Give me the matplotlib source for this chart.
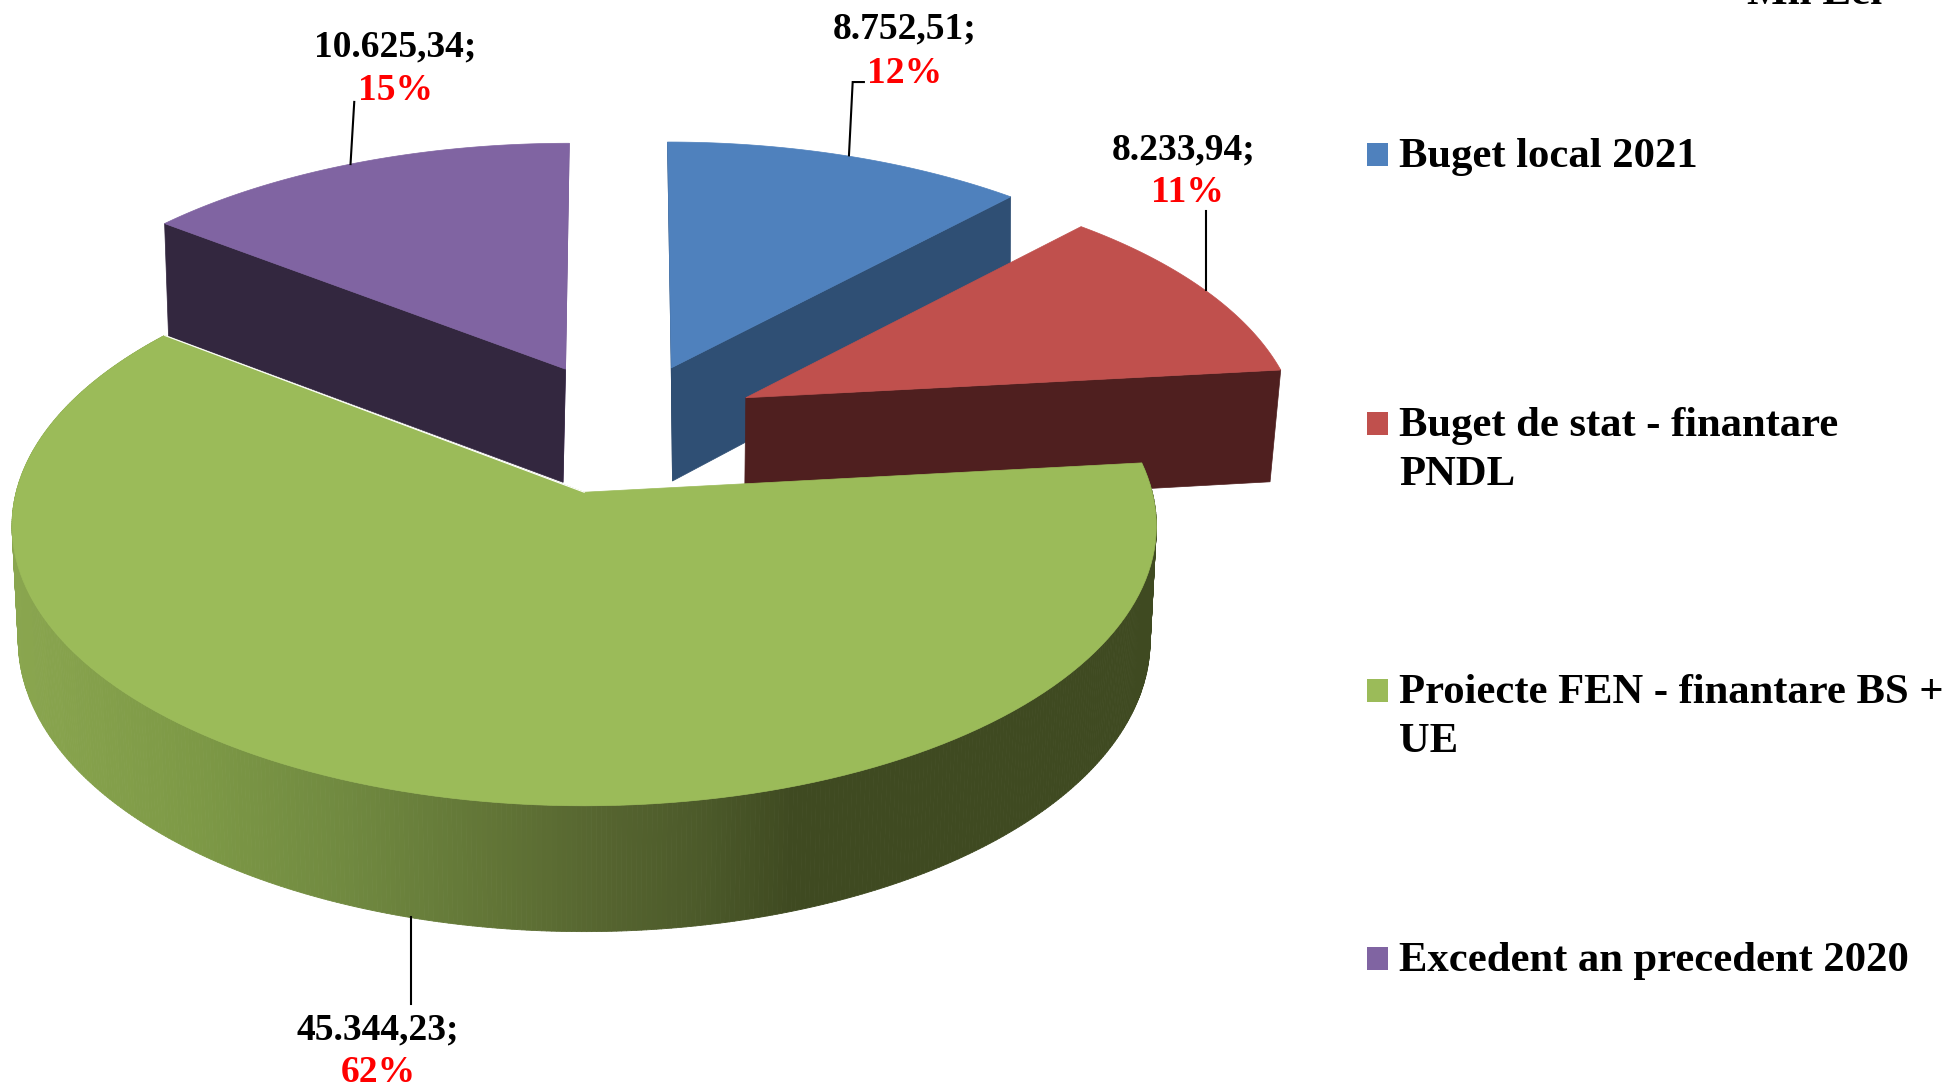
import numpy as np
import matplotlib
matplotlib.use("Agg")
import matplotlib.pyplot as plt
from matplotlib.collections import PolyCollection
from matplotlib.colors import to_rgb

categories = ["Buget local 2021", "Buget de stat - finantare\nPNDL",
              "Proiecte FEN - finantare BS +\nUE", "Excedent an precedent 2020"]
values = [8752.51, 8233.94, 45344.23, 10625.34]
unit_label = "Mil Lei"

top_colors = ["#4f81bd", "#c0504d", "#9bbb59", "#8064a2"]
side_colors = ["#2f4f74", "#4f1f1f", "#3f4a21", "#33273f"]
sliver_colors = ["#1f3a58", "#4f1f1f", "#3f4a21", "#75598f"]

# rim shading of the big slice, left to right
rim_x = [15, 200, 350, 500, 600, 700, 790, 1160]
rim_col = ["#8aa64f", "#7d9946", "#708940", "#617436", "#566530", "#4c5a2a", "#3f4a21", "#3f4a21"]

# pie geometry in pixels, the big slice has its own perspective
S = 1949 / 1568
persp = [0.161, 0.161, 0.12, 0.161]
x_r = [454 * S, 454 * S, 457 * S, 454 * S]
y_r = [211 * S, 211 * S, 222 * S, 211 * S]
x_r2 = [449 * S, 446 * S, 452 * S, 445 * S]
y_r2 = [221 * S, 221 * S, 231 * S, 212 * S]
depth = 91 * S
# apex of each slice, x squeeze and lean
apex_x = [540 * S, 600 * S, 470 * S, 455 * S]
apex_x2 = [541 * S, 599 * S, 470 * S, 453 * S]
apex_y = [296 * S, 320 * S, 396 * S, 297 * S]
squeeze = [0.99, 0.97, 1.0, 0.99]
lean = [3 * S, 0, 0, -3 * S]


def top_pt(i, t):
    u, v = np.sin(t), -np.cos(t)
    w = 1 - persp[i] * v
    return apex_x[i] + squeeze[i] * x_r[i] * u / w + lean[i] * v, apex_y[i] + y_r[i] * v / w


def bot_pt(i, t):
    u, v = np.sin(t), -np.cos(t)
    w = 1 - persp[i] * v
    return apex_x2[i] + squeeze[i] * x_r2[i] * u / w + lean[i] * v * 0.3, apex_y[i] + depth + y_r2[i] * v / w


fig = plt.figure(figsize=(19.49, 10.86), dpi=100)
ax = fig.add_axes([0, 0, 1, 1])
ax.set_xlim(0, 1949)
ax.set_ylim(1086, 0)
ax.axis("off")

total = sum(values)
edges = np.concatenate([[0], np.cumsum(values)]) / total * 2 * np.pi
apex_top = [(apex_x[i], apex_y[i]) for i in range(4)]
apex_bot = [(apex_x2[i], apex_y[i] + depth) for i in range(4)]


def radial_face(i, t, color, z):
    x1, y1 = top_pt(i, t)
    x2, y2 = bot_pt(i, t)
    ax.fill([x1, apex_top[i][0], apex_bot[i][0], x2], [y1, apex_top[i][1], apex_bot[i][1], y2],
            color=color, lw=0.5, zorder=z)


def top_face(i, z):
    t = np.linspace(edges[i], edges[i + 1], 150)
    xs, ys = top_pt(i, t)
    ax.fill(np.r_[apex_top[i][0], xs], np.r_[apex_top[i][1], ys], color=top_colors[i], lw=0.5, zorder=z)


# blue
radial_face(0, edges[0], sliver_colors[0], 1)
radial_face(0, edges[1], side_colors[0], 2)
top_face(0, 3)
# purple
radial_face(3, edges[4], sliver_colors[3], 1)
radial_face(3, edges[3], side_colors[3], 2)
top_face(3, 3)
# red
radial_face(1, edges[2], side_colors[1], 4)
top_face(1, 5)

# green rim, one narrow quad per step
t = np.linspace(edges[2], edges[3], 500)
xt, yt = top_pt(2, t)
xb, yb = bot_pt(2, t)
rgb = np.array([to_rgb(c) for c in rim_col])
polys, cols = [], []
for j in range(len(t) - 1):
    polys.append([(xt[j], yt[j]), (xt[j + 1], yt[j + 1]), (xb[j + 1], yb[j + 1]), (xb[j], yb[j])])
    xm = (xb[j] + xb[j + 1]) / 2
    cols.append([np.interp(xm, rim_x, rgb[:, c]) for c in range(3)])
ax.add_collection(PolyCollection(polys, facecolors=cols, edgecolors=cols, linewidths=0.6, zorder=6))
top_face(2, 7)
xe, ye = top_pt(2, edges[3])
ax.plot([xe, apex_x[2]], [ye, apex_y[2]], color="white", lw=0.8, zorder=8)

# data labels
label_pos = [(728, 23, 728, 59), (952, 121, 955, 155), (304, 829, 304, 863), (318, 38, 318, 73)]
for v, (lx1, ly1, lx2, ly2) in zip(values, label_pos):
    txt = f"{v:,.2f}".replace(",", "#").replace(".", ",").replace("#", ".") + ";"
    ax.text(lx1 * S, ly1 * S, txt, ha="center", va="center", family="Liberation Serif",
            weight="bold", fontsize=27, color="black", zorder=10)
    ax.text(lx2 * S, ly2 * S, f"{v / total * 100:.0f}%", ha="center", va="center", family="Liberation Serif",
            weight="bold", fontsize=27, color="#ff0000", zorder=10)

leaders = [([683, 686, 695], [125, 66, 66]), ([970, 970], [233, 170]),
           ([331, 331], [738, 808]), ([282, 285], [132, 82])]
for lxs, lys in leaders:
    ax.plot(np.array(lxs) * S, np.array(lys) * S, color="black", lw=1.5, zorder=9, solid_joinstyle="miter")

# legend
legend_y = [124, 340, 555, 771]
for name, c, ly in zip(categories, top_colors, legend_y):
    ax.add_patch(plt.Rectangle((1367, ly * S - 11), 21, 23, color=c, lw=0, zorder=10))
    ax.text(1399, ly * S - 16, name, ha="left", va="top", family="Liberation Serif", weight="bold",
            fontsize=30.7, linespacing=1.39, color="black", zorder=10)

ax.text(1815, 4, unit_label, ha="center", va="baseline", family="Liberation Serif", weight="bold",
        fontsize=31, color="black")

fig.savefig("out.png", dpi=100)
